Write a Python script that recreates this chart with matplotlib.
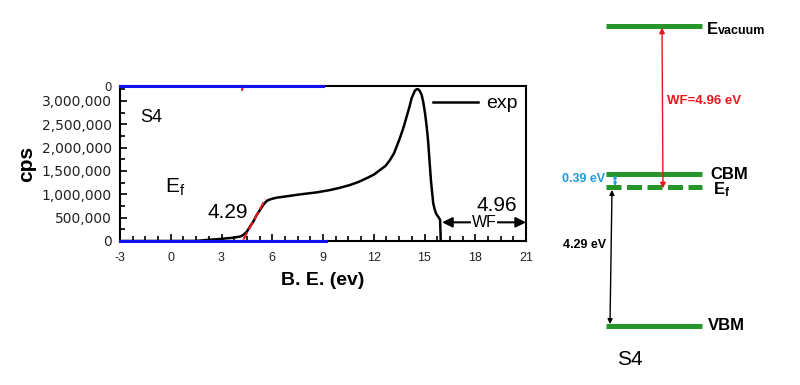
import matplotlib
matplotlib.use("Agg")
import matplotlib.pyplot as plt
from matplotlib.ticker import MultipleLocator, AutoMinorLocator

plt.rcParams['font.family'] = ['Liberation Sans', 'DejaVu Sans']
plt.rcParams['mathtext.fontset'] = 'custom'
plt.rcParams['mathtext.rm'] = 'Liberation Sans'
plt.rcParams['mathtext.bf'] = 'Liberation Sans:bold'
plt.rcParams['axes.unicode_minus'] = False

# --- UPS spectrum ---
be = [-3, 0, 1.5, 2.1, 2.9, 3.7, 4.1, 4.29, 4.5, 4.68, 4.9, 5.08, 5.3, 5.47,
      5.62, 5.77, 6.0, 6.26, 6.9, 7.64, 8.6, 9.4, 10.0, 10.6, 11.1, 11.58,
      12.0, 12.37, 12.7, 12.96, 13.2, 13.35, 13.5, 13.65, 13.8, 13.94, 14.1,
      14.24, 14.35, 14.43, 14.53, 14.63, 14.73, 14.83, 14.93, 15.03, 15.1,
      15.17, 15.23, 15.28, 15.33, 15.38, 15.45, 15.52, 15.6, 15.68, 15.75,
      15.81, 15.88, 15.92, 15.94, 15.96]
cps = [0, 0, 2e3, 21e3, 43e3, 71e3, 95e3, 128e3, 200e3, 306e3, 430e3, 557e3,
       680e3, 772e3, 840e3, 878e3, 905e3, 928e3, 960e3, 998e3, 1040e3,
       1090e3, 1140e3, 1200e3, 1265e3, 1345e3, 1420e3, 1520e3, 1610e3,
       1735e3, 1880e3, 2020e3, 2160e3, 2315e3, 2480e3, 2660e3, 2860e3,
       3060e3, 3150e3, 3220e3, 3250e3, 3250e3, 3210e3, 3130e3, 2970e3,
       2740e3, 2540e3, 2310e3, 2060e3, 1800e3, 1550e3, 1300e3, 1040e3, 800e3,
       680e3, 590e3, 550e3, 520e3, 480e3, 450e3, 250e3, 0]
onset = 4.29
wf = 4.96
hv = 21.0
tangent_be = [4.29, 5.6]
tangent_cps = [30e3, 900e3]

# --- band diagram (eV, vacuum = 0) ---
E_vac = 0.0
E_f = -wf
E_cbm = E_f + 0.39
E_vbm = E_f - 4.29

fig = plt.figure(figsize=(8, 3.85), dpi=100)

# right-hand diagram on a full-figure axes: x in pixels, y in eV
ax2 = fig.add_axes([0, 0, 1, 1])
ax2.set_xlim(0, 800)
k = 32.4
ax2.set_ylim(E_vac - (385 - 26) / k, E_vac + 26 / k)
ax2.axis('off')

green = '#27962a'
x0, x1 = 606, 702
for e in (E_vac, E_cbm, E_vbm):
    ax2.plot([x0, x1], [e, e], color=green, lw=3.6, solid_capstyle='butt')
ln, = ax2.plot([x0, x1], [E_f, E_f], color=green, lw=3.6, solid_capstyle='butt')
ln.set_dashes((3, 1.1))

ax2.annotate('', xy=(663, E_f - 0.05), xytext=(662, E_vac - 0.05),
             arrowprops=dict(arrowstyle='<|-|>', color='#e8161b', lw=1,
                             mutation_scale=8, shrinkA=0, shrinkB=0))
ax2.annotate('', xy=(615, E_f + 0.02), xytext=(615, E_cbm - 0.02),
             arrowprops=dict(arrowstyle='<|-|>', color='#1a9de0', lw=1,
                             mutation_scale=4.5, shrinkA=0, shrinkB=0))
ax2.annotate('', xy=(610, E_vbm + 0.05), xytext=(612, E_f - 0.1),
             arrowprops=dict(arrowstyle='<|-|>', color='black', lw=1,
                             mutation_scale=7, shrinkA=0, shrinkB=0))

ax2.text(707, E_vac - 0.1, 'E', fontsize=12, fontweight='bold', va='center')
ax2.text(718, E_vac - 0.15, 'vacuum', fontsize=9, fontweight='bold', va='center')
ax2.text(667, E_vac - 2.3, f'WF={wf:.2f} eV', fontsize=9.5, fontweight='bold',
         color='#e8161b', va='center')
ax2.text(710, E_cbm, 'CBM', fontsize=12, fontweight='bold', va='center')
ax2.text(713, E_f - 0.1, r'$\mathbf{E_f}$', fontsize=12, va='center')
ax2.text(562, (E_cbm + E_f) / 2 + 0.05, '0.39 eV', fontsize=9, fontweight='bold',
         color='#1a9de0', va='center')
ax2.text(563, E_f - 1.8, '4.29 eV', fontsize=9, fontweight='bold', va='center')
ax2.text(708, E_vbm, 'VBM', fontsize=12, fontweight='bold', va='center')
ax2.text(630, E_vbm - 1.05, 'S4', fontsize=15, ha='center', va='center')

# left-hand spectrum
ax = fig.add_axes([120 / 800, 1 - 241 / 385, 406 / 800, 155 / 385])
ytop = 3.32e6
ax.set_xlim(-3, 21)
ax.set_ylim(0, ytop)

ax.plot(be, cps, color='black', lw=1.8, label='exp', zorder=3)
ax.plot(tangent_be, tangent_cps, color='#e8161b', lw=1.5, ls=(0, (4, 1.5)), zorder=4)
ax.plot([4.22, 4.27], [3.24e6, ytop], color='#e8161b', lw=1.5, zorder=4, clip_on=False)
ax.plot([-3, 9.2], [0, 0], color='#1010f0', lw=2.2, zorder=5, clip_on=False)
ax.plot([-3, 9.0], [ytop, ytop], color='#1010f0', lw=2.2, zorder=5, clip_on=False)

ax.annotate('', xy=(hv, 400e3), xytext=(hv - wf, 400e3),
            arrowprops=dict(arrowstyle='<|-|>', color='black', lw=1.5,
                            mutation_scale=15, shrinkA=0, shrinkB=0))
ax.text((hv + hv - wf) / 2, 400e3, 'WF', fontsize=11.5, ha='center', va='center',
        bbox=dict(facecolor='white', edgecolor='none', pad=0.5))
ax.text(19.28, 770e3, f'{wf:.2f}', fontsize=15, ha='center', va='center')
ax.text(3.38, 620e3, f'{onset:.2f}', fontsize=15, ha='center', va='center')
ax.text(-1.17, 2.65e6, 'S4', fontsize=13, ha='center', va='center')
ax.text(0.25, 1.15e6, r'E$_{\rm f}$', fontsize=15, ha='center', va='center')

ax.legend(loc='upper right', frameon=False, fontsize=14, handlelength=2.3,
          handletextpad=0.4, borderaxespad=0.05)

yt = [0, 500e3, 1e6, 1.5e6, 2e6, 2.5e6, 3e6]
ax.set_yticks(yt + [ytop])
labels = ax.set_yticklabels([f'{int(v):,}' for v in yt] + ['0'],
                            fontfamily='DejaVu Sans', fontsize=10, color='#222222')
labels[-1].set_fontsize(8.5)
ax.yaxis.set_minor_locator(MultipleLocator(250e3))
ax.xaxis.set_major_locator(MultipleLocator(3))
ax.xaxis.set_minor_locator(AutoMinorLocator(4))
ax.tick_params(axis='x', labelsize=9, labelcolor='#222222', pad=8)
ax.tick_params(axis='y', pad=6)
ax.tick_params(which='both', direction='in')
ax.tick_params(which='major', length=5, width=1.2)
ax.tick_params(which='minor', length=3.5, width=1.2)
for s in ax.spines.values():
    s.set_linewidth(1.5)

ax.set_xlabel('B. E. (ev)', fontsize=14, fontweight='bold', labelpad=6)
ax.set_ylabel('cps', fontsize=15, fontweight='bold', labelpad=4)

fig.savefig('out.png', dpi=100)
